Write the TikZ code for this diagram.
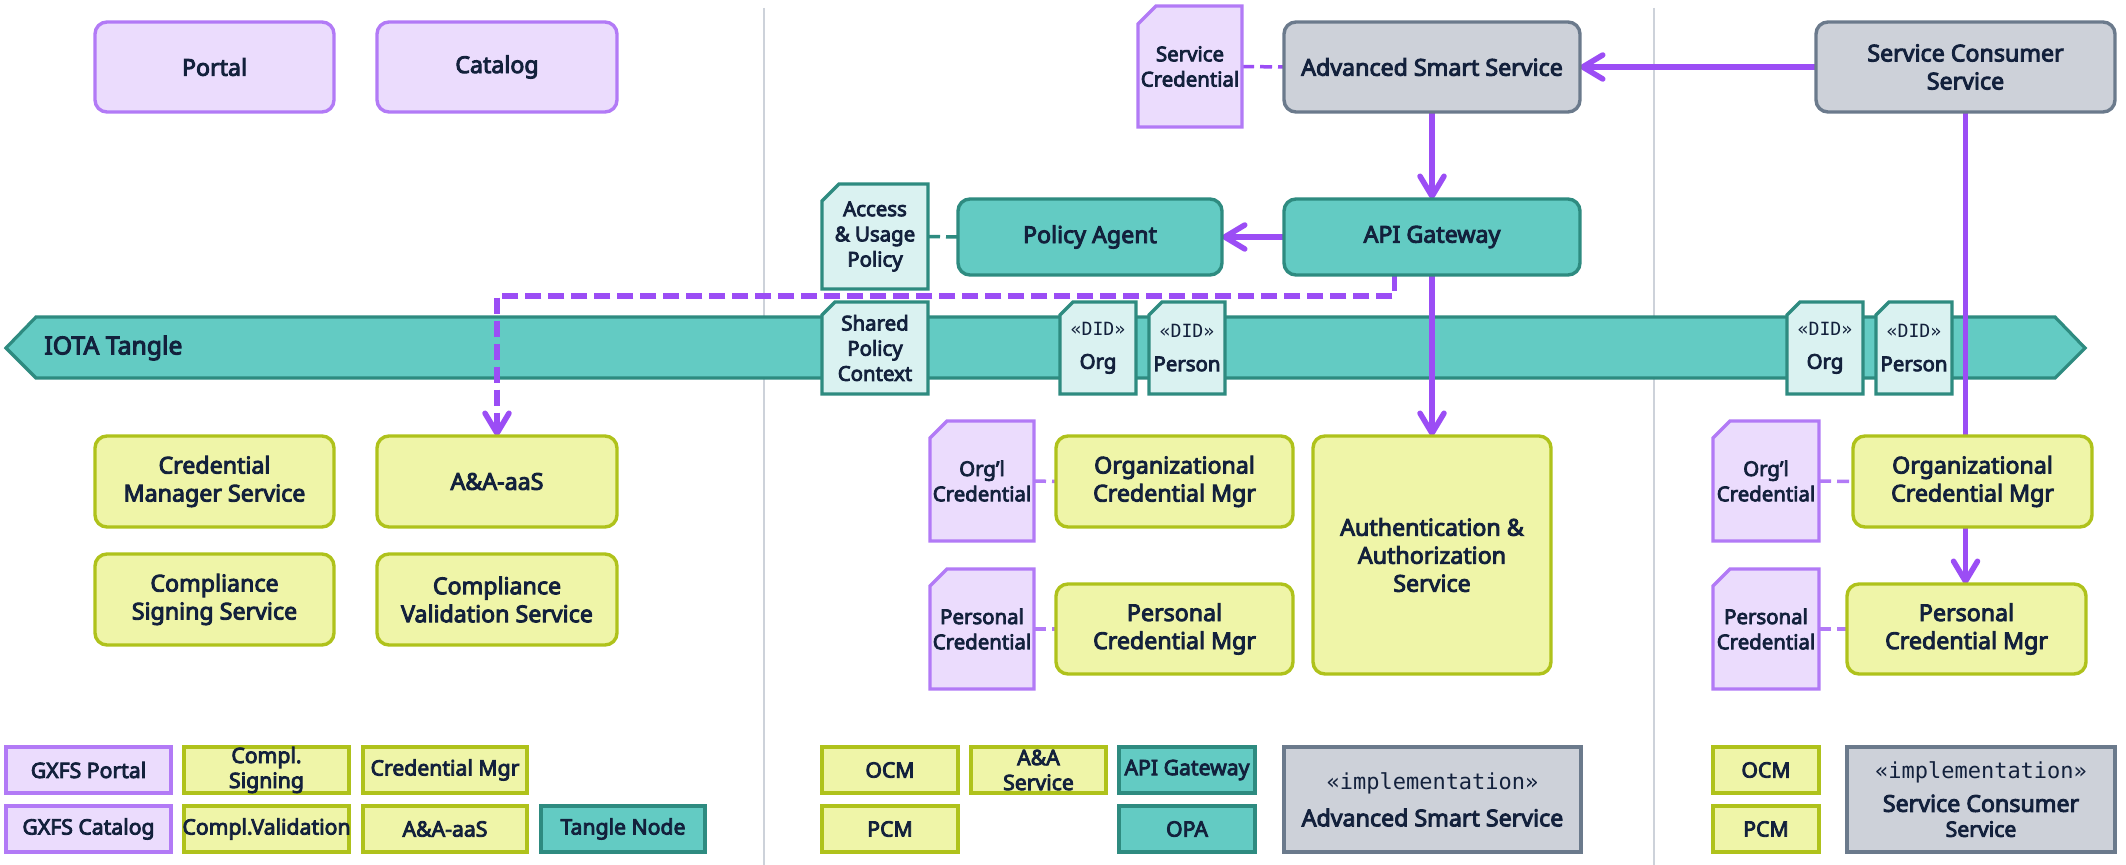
\documentclass[tikz,border=0pt]{standalone}
\usepackage{fontspec}
\usetikzlibrary{arrows.meta,calc}
\newfontfamily\uifont{Noto Sans}[FakeBold=4]
\newfontfamily\monof{DejaVu Sans Mono}
\definecolor{txt}{HTML}{13213C}
\definecolor{pfill}{HTML}{EBDCFD}
\definecolor{pdraw}{HTML}{B27AF6}
\definecolor{yfill}{HTML}{EFF5A8}
\definecolor{ydraw}{HTML}{AFC21B}
\definecolor{tfill}{HTML}{63CBC3}
\definecolor{tdraw}{HTML}{2E8B80}
\definecolor{tlight}{HTML}{DAF2F1}
\definecolor{gfill}{HTML}{CDD1D9}
\definecolor{gdraw}{HTML}{6B7A8C}
\definecolor{arrc}{HTML}{9B4DF5}
\definecolor{sepc}{HTML}{CDD2DA}
\pgfdeclarelayer{bg}\pgfdeclarelayer{mid}\pgfsetlayers{bg,mid,main}
\tikzset{
  mainfont/.style={font=\uifont\fontsize{11.6pt}{14pt}\selectfont},
  box/.style={rounded corners=6pt, line width=1.7pt, align=center, inner sep=0pt, outer sep=0pt, text=txt, mainfont},
  pbox/.style={box, fill=pfill, draw=pdraw},
  ybox/.style={box, fill=yfill, draw=ydraw},
  tbox/.style={box, fill=tfill, draw=tdraw},
  gbox/.style={box, fill=gfill, draw=gdraw},
  docp/.style={fill=pfill, draw=pdraw, line width=1.7pt},
  doct/.style={fill=tlight, draw=tdraw, line width=1.7pt},
  doctxt/.style={align=center, inner sep=0pt, outer sep=0pt, text=txt, font=\uifont\fontsize{10.2pt}{12.6pt}\selectfont},
  legp/.style={fill=pfill, draw=pdraw, line width=1.8pt},
  legy/.style={fill=yfill, draw=ydraw, line width=1.8pt},
  legt/.style={fill=tfill, draw=tdraw, line width=1.8pt},
  legg/.style={fill=gfill, draw=gdraw, line width=1.8pt},
  legtxt/.style={align=center, inner sep=0pt, outer sep=0pt, text=txt, font=\uifont\fontsize{10.6pt}{12.5pt}\selectfont},
  flow/.style={draw=arrc, line width=2.75pt, -{Straight Barb[length=10pt,width=12pt,line cap=round,line join=round]}},
  dflow/.style={flow, dash pattern=on 8pt off 3.5pt},
  plink/.style={draw=pdraw, line width=1.75pt, dash pattern=on 6pt off 3pt},
  plinkv/.style={draw=arrc, line width=1.75pt, dash pattern=on 6pt off 3pt},
  tlink/.style={draw=tdraw, line width=1.75pt, dash pattern=on 6pt off 3pt},
  sepline/.style={draw=sepc, line width=1pt},
}
% box node: style, name, x1, y1, x2, y2, text
\newcommand\pn[7]{\node[#1, minimum width={(#5-#3)*0.5pt}, minimum height={(#6-#4)*0.5pt}] (#2) at ({(#3+#5)/2},{(#4+#6)/2}) {#7};}
% document: style, name, x1, y1, x2, y2, cut, text
\newcommand\pdoc[8]{\filldraw[#1] (#3,#4+#7) -- (#3+#7,#4) -- (#5,#4) -- (#5,#6) -- (#3,#6) -- cycle;
  \node[doctxt, minimum width={(#5-#3)*0.5pt}, minimum height={(#6-#4)*0.5pt}] (#2) at ({(#3+#5)/2},{(#4+#6)/2}) {#8};}
% legend: style, name, x1, y1, x2, y2, text
\newcommand\plg[7]{\filldraw[#1] (#3,#4) rectangle (#5,#6);
  \node[legtxt] (#2) at ({(#3+#5)/2},{(#4+#6)/2}) {#7};}
\newcommand\stereo[1]{{\monof\fontsize{9.1pt}{11pt}\selectfont #1}}
\newcommand\stereob[1]{{\monof\fontsize{11pt}{13pt}\selectfont #1}}
\begin{document}
\begin{tikzpicture}[x=0.5pt,y=-0.5pt]
\useasboundingbox (0,0) rectangle (2126,865);

\begin{pgfonlayer}{bg}
\fill[white] (0,0) rectangle (2126,865);
\draw[sepline] (764,8) -- (764,865);
\draw[sepline] (1654,8) -- (1654,865);
\filldraw[fill=tfill, draw=tdraw, line width=1.6pt] (6,348) -- (36,317) -- (2055,317) -- (2085,348) -- (2055,378) -- (36,378) -- cycle;
\node[anchor=west, text=txt, inner sep=0pt, font=\uifont\fontsize{12.4pt}{14pt}\selectfont] (iota) at (44,348) {IOTA Tangle};
\pdoc{doct}{spc}{822}{302}{928}{394}{13}{Shared\\Policy\\Context}
\pdoc{doct}{did1}{1060}{302}{1136}{394}{13}{\stereo{«DID»}\\[4pt]Org}
\pdoc{doct}{did2}{1149}{302}{1225}{394}{13}{\stereo{«DID»}\\[4pt]Person}
\pdoc{doct}{did3}{1787}{302}{1863}{394}{13}{\stereo{«DID»}\\[4pt]Org}
\pdoc{doct}{did4}{1876}{302}{1952}{394}{13}{\stereo{«DID»}\\[4pt]Person}
\end{pgfonlayer}

% left section
\pn{pbox}{portal}{95}{22}{334}{112}{Portal}
\pn{pbox}{catalog}{377}{22}{617}{112}{Catalog}
\pn{ybox}{cms}{95}{436}{334}{527}{Credential\\Manager Service}
\pn{ybox}{aaas}{377}{436}{617}{527}{A\&A-aaS}
\pn{ybox}{css}{95}{554}{334}{645}{Compliance\\Signing Service}
\pn{ybox}{cvs}{377}{554}{617}{645}{Compliance\\Validation Service}
\plg{legp}{lgp}{6}{747}{171}{793}{GXFS Portal}
\plg{legy}{lcs}{184}{747}{349}{793}{Compl.\\Signing}
\plg{legy}{lcm}{363}{747}{527}{793}{Credential Mgr}
\plg{legp}{lgc}{6}{806}{171}{852}{GXFS Catalog}
\plg{legy}{lcv}{184}{806}{349}{852}{Compl.Validation}
\plg{legy}{laa}{363}{806}{527}{852}{A\&A-aaS}
\plg{legt}{ltn}{541}{806}{705}{852}{Tangle Node}

% middle section
\pdoc{docp}{svcred}{1138}{6}{1242}{127}{18}{Service\\Credential}
\pn{gbox}{ass}{1284}{22}{1580}{112}{Advanced Smart Service}
\pdoc{doct}{aup}{822}{184}{928}{289}{17}{Access\\\& Usage\\Policy}
\pn{tbox}{pa}{958}{199}{1222}{275}{Policy Agent}
\pn{tbox}{api}{1284}{199}{1580}{275}{API Gateway}
\pdoc{docp}{orgcred}{930}{421}{1034}{541}{17}{Org’l\\Credential}
\pn{ybox}{ocm}{1056}{436}{1293}{527}{Organizational\\Credential Mgr}
\pdoc{docp}{perscred}{930}{569}{1034}{689}{17}{Personal\\Credential}
\pn{ybox}{pcm}{1056}{584}{1293}{674}{Personal\\Credential Mgr}
\pn{ybox}{auth}{1313}{436}{1551}{674}{Authentication \&\\Authorization\\Service}
\plg{legy}{locm}{822}{747}{958}{793}{OCM}
\plg{legy}{laas}{971}{747}{1106}{793}{A\&A\\Service}
\plg{legt}{lapi}{1119}{747}{1255}{793}{API Gateway}
\plg{legy}{lpcm}{822}{806}{958}{852}{PCM}
\plg{legt}{lopa}{1119}{806}{1255}{852}{OPA}
\plg{legg}{limpl1}{1284}{747}{1581}{852}{\stereob{«implementation»}\\[6pt]\fontsize{11.6pt}{14pt}\selectfont Advanced Smart Service}

% right section
\pn{gbox}{scs}{1816}{22}{2115}{112}{Service Consumer\\Service}
\pdoc{docp}{orgcred2}{1713}{421}{1819}{541}{17}{Org’l\\Credential}
\pn{ybox}{ocm2}{1853}{436}{2092}{527}{Organizational\\Credential Mgr}
\pdoc{docp}{perscred2}{1713}{569}{1819}{689}{17}{Personal\\Credential}
\pn{ybox}{pcm2}{1847}{584}{2086}{674}{Personal\\Credential Mgr}
\plg{legy}{locm2}{1713}{747}{1819}{793}{OCM}
\plg{legy}{lpcm2}{1713}{806}{1819}{852}{PCM}
\plg{legg}{limpl2}{1847}{747}{2115}{852}{\stereob{«implementation»}\\[4pt]\fontsize{11.6pt}{14pt}\selectfont Service Consumer\\Service}

\begin{pgfonlayer}{mid}
\draw[flow] (scs.west) -- (ass.east);
\draw[flow] (ass.south) -- (api.north);
\draw[flow] (api.west) -- (pa.east);
\draw[flow] (api.south) -- (auth.north);
\draw[dflow] ([xshift=-18.8pt]api.south) -- ++(0,21) -| (aaas.north);
\draw[flow] (scs.south) -- (scs.south |- pcm2.north);
\draw[plinkv] (svcred.east) -- (ass.west);
\draw[tlink] (aup.east) -- (pa.west);
\draw[plink] (orgcred.east) -- (ocm.west);
\draw[plink] (perscred.east) -- (pcm.west);
\draw[plink] (orgcred2.east) -- (ocm2.west);
\draw[plink] (perscred2.east) -- (pcm2.west);
\end{pgfonlayer}
\end{tikzpicture}
\end{document}
